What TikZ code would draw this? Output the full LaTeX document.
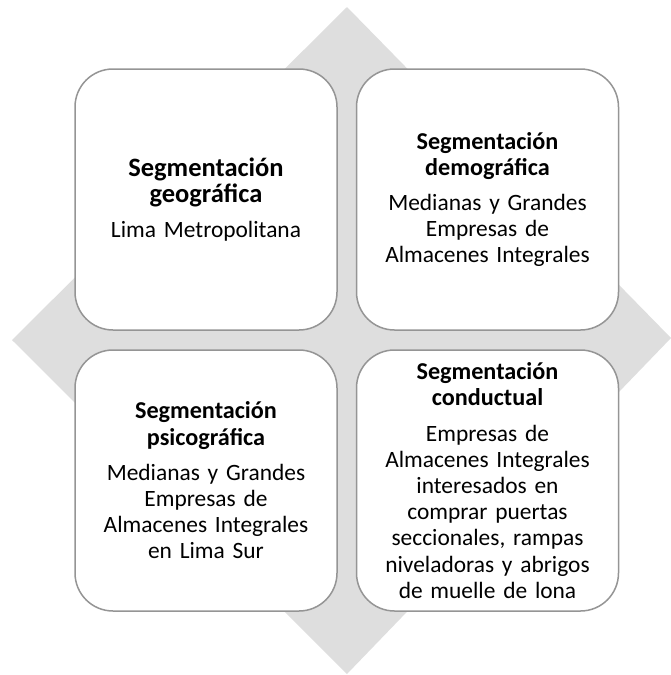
\documentclass[tikz,border=0pt]{standalone}
\usepackage{fontspec}
\setmainfont{Carlito}

\definecolor{diamondgray}{HTML}{DEDEDE}
\definecolor{boxgray}{HTML}{959595}

\tikzset{
  segbox/.style={draw=boxgray, line width=1.5pt, fill=white,
    rounded corners=38pt, minimum width=262pt, minimum height=261pt,
    text width=250pt, inner sep=0pt, align=center,
    font=\fontsize{23.4}{26.2}\selectfont}
}

\begin{document}
\begin{tikzpicture}[x=1pt,y=-1pt]
    \useasboundingbox (0,0) rectangle (671,675);
    \clip (0,0) rectangle (671,675);

    % === Background diamond ===
    \coordinate (top) at (347,7);
    \coordinate (right) at (671,338);
    \coordinate (bottom) at (347,674);
    \coordinate (left) at (12,340);
    \fill[diamondgray] (top) -- (right) -- (bottom) -- (left) -- cycle;

    % === Segment boxes ===
    \node[segbox] (geo) at (206,199.5)
      {{\fontsize{26.5}{29}\selectfont\bfseries Segmentación\\ geográfica}\\[8pt]
       Lima Metropolitana};

    \node[segbox] (demo) at (487.5,199.5)
      {{\fontsize{24.2}{28}\selectfont\bfseries Segmentación\\ demográfica}\\[9pt]
       Medianas y Grandes\\ Empresas de\\ Almacenes Integrales};

    \node[segbox] (psico) at (206,480.5)
      {{\fontsize{24.2}{28}\selectfont\bfseries Segmentación\\ psicográfica}\\[9pt]
       Medianas y Grandes\\ Empresas de\\ Almacenes Integrales\\ en Lima Sur};

    \node[segbox] (cond) at (487.5,480.5)
      {{\fontsize{24.2}{28}\selectfont\bfseries Segmentación\\ conductual}\\[9pt]
       Empresas de\\ Almacenes Integrales\\ interesados en\\ comprar puertas\\
       seccionales, rampas\\ niveladoras y abrigos\\ de muelle de lona};

\end{tikzpicture}
\end{document}
